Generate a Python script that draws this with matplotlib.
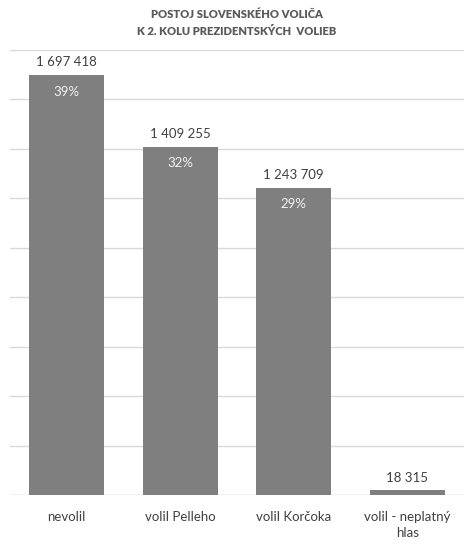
import numpy as np
import matplotlib.pyplot as plt

plt.rcParams['font.family'] = ['Lato', 'DejaVu Sans']

categories = ['nevolil', 'volil Pelleho', 'volil Korčoka', 'volil - neplatný\nhlas']
votes = [1697418, 1409255, 1243709, 18315]
vote_labels = ['1 697 418', '1 409 255', '1 243 709', '18 315']
share_labels = ['39%', '32%', '29%', '']

fig = plt.figure(figsize=(4.74, 5.48), dpi=100)
ax = fig.add_axes([10 / 474, 1 - 495 / 548, 454 / 474, 445 / 548])

x = np.arange(len(categories))
bars = ax.bar(x, votes, width=0.66, color='#7f7f7f', zorder=3)

ax.set_ylim(0, 1800000)
ax.set_xlim(-0.5, len(categories) - 0.5)
ax.set_yticks(np.arange(0, 1800001, 200000))
ax.yaxis.grid(True, color='#d9d9d9', linewidth=1)
ax.tick_params(axis='y', left=False, labelleft=False)
ax.tick_params(axis='x', bottom=False, labelsize=9.5, labelcolor='#404040', pad=8)
ax.set_xticks(x)
ax.set_xticklabels(categories, linespacing=1.4)
for s in ax.spines.values():
    s.set_visible(False)
ax.axhline(0, color='#d9d9d9', linewidth=1, zorder=2)

for b, v, lab, sh in zip(bars, votes, vote_labels, share_labels):
    cx = b.get_x() + b.get_width() / 2
    ax.annotate(lab, (cx, v), xytext=(0, 5), textcoords='offset points',
                ha='center', va='bottom', fontsize=9.5, color='#404040')
    if sh:
        ax.annotate(sh, (cx, v), xytext=(0, -12), textcoords='offset points',
                    ha='center', va='center', fontsize=9.5, color='#f2f2f2', zorder=4)

fig.text(0.5, 1 - 23 / 548, 'POSTOJ SLOVENSKÉHO VOLIČA\nK 2. KOLU PREZIDENTSKÝCH  VOLIEB',
         ha='center', va='center', fontsize=8, fontweight='heavy', color='#595959',
         linespacing=1.75)

fig.savefig('out.png', dpi=100)
